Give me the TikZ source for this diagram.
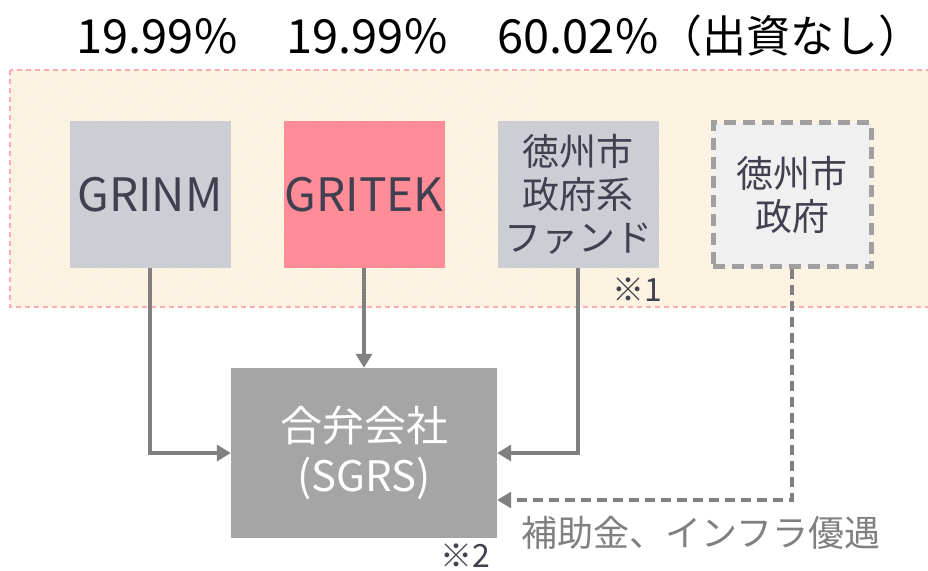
\documentclass[tikz,border=0pt]{standalone}
\usepackage{fontspec}
\setmainfont{Noto Sans CJK JP}
\usetikzlibrary{arrows.meta,calc,patterns}
\definecolor{bgfill}{HTML}{FFFAF0}
\definecolor{hatch}{HTML}{FBE6C6}
\definecolor{pinkline}{HTML}{FFAAB3}
\definecolor{lightbox}{HTML}{CDCDD5}
\definecolor{redbox}{HTML}{FF8C96}
\definecolor{govfill}{HTML}{F0F0F0}
\definecolor{govline}{HTML}{A0A0A0}
\definecolor{jvfill}{HTML}{A5A5A5}
\definecolor{txtdark}{HTML}{404050}
\definecolor{arr}{HTML}{808080}
\tikzset{
  x=1pt, y=-1pt,
  entity/.style={inner sep=0pt, minimum width=161pt, minimum height=147pt, align=center, text=txtdark},
  latinlbl/.style={font=\fontsize{46}{50}\selectfont},
  jplbl/.style={font=\fontsize{37}{43}\selectfont},
  conn/.style={draw=arr, line width=4pt, -{Triangle[length=14pt,width=16pt]}},
  pct/.style={font=\fontsize{47}{50}\selectfont, text=black, inner sep=0pt},
  note/.style={font=\fontsize{32}{36}\selectfont, text=txtdark, inner sep=0pt},
}
\begin{document}
\begin{tikzpicture}
\useasboundingbox (0,0) rectangle (928,570);
% background region
\fill[bgfill] (10,70) rectangle (940,307);
\fill[pattern=north east lines, pattern color=hatch] (10,70) rectangle (940,307);
\draw[pinkline, line width=2pt, dash pattern=on 5pt off 4pt] (10,70) rectangle (940,307);
% percentages
\node[pct] (p1) at (157,36) {19.99\%};
\node[pct] (p2) at (367,36) {19.99\%};
\node[pct] (p3) at (578,36) {60.02\%};
\node[pct, font=\fontsize{44}{48}\selectfont] (p4) at (790,36) {（出資なし）};
% entities
\node[entity, fill=lightbox, latinlbl] (grinm) at (150,194.5) {GRINM};
\node[entity, fill=redbox, latinlbl] (gritek) at (364,194.5) {GRITEK};
\node[entity, fill=lightbox, jplbl] (fund) at (578,194.5) {徳州市\\政府系\\ファンド};
\node[entity, fill=govfill, draw=govline, line width=5pt, dash pattern=on 12pt off 7pt, jplbl, minimum width=158pt, minimum height=144pt] (gov) at (792,194.5) {徳州市\\政府};
\node[note] (n1) at (637,290) {※1};
% joint venture
\node[inner sep=0pt, minimum width=266pt, minimum height=170pt, fill=jvfill, text=white, align=center, font=\fontsize{42}{50}\selectfont] (jv) at (364,453) {合弁会社\\(SGRS)};
\node[note] (n2) at (465,556) {※2};
% connectors
\draw[conn] (grinm.south) |- (jv.west);
\draw[conn] (gritek.south) -- (jv.north);
\draw[conn] (fund.south) |- (jv.east);
\draw[conn, dash pattern=on 10pt off 6pt] (gov.south) |- ($(jv.east)+(0,47)$);
\node[text=arr, font=\fontsize{36}{40}\selectfont, inner sep=0pt, anchor=west] (sub) at (521,533) {補助金、インフラ優遇};
\end{tikzpicture}
\end{document}
